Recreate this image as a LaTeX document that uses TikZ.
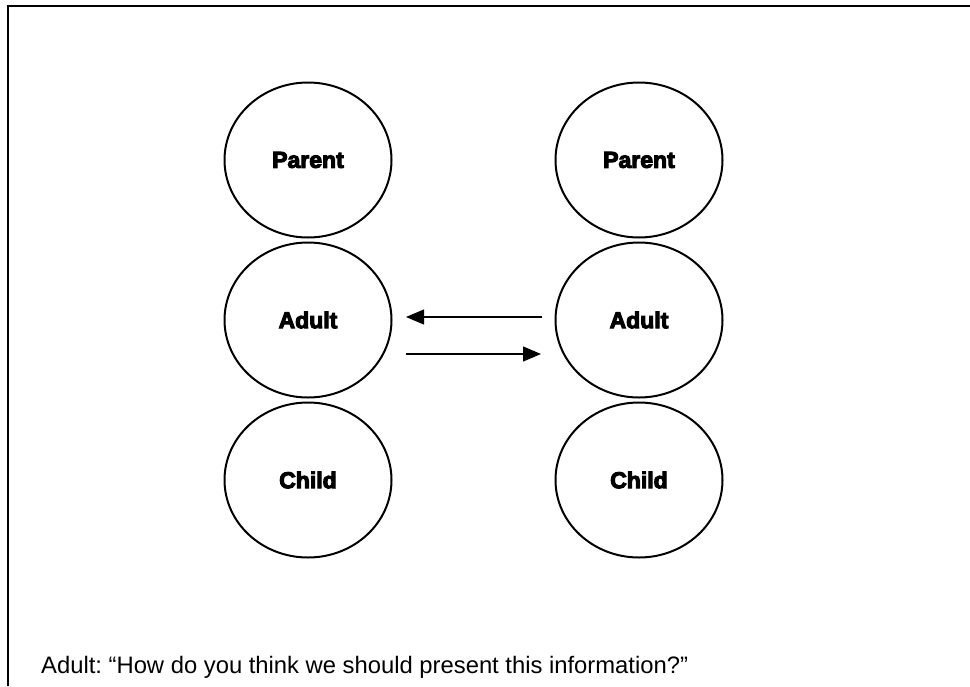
\documentclass[tikz,border=0pt]{standalone}
\usepackage{fontspec}
\setmainfont{Liberation Sans}
\newfontfamily\heavyfont{Liberation Sans Bold}[FakeBold=4.5]
\usetikzlibrary{shapes.geometric,arrows.meta}

\tikzset{
  ego/.style={draw=black, line width=2pt, ellipse, inner sep=0pt,
              minimum width=167pt, minimum height=155pt,
              font=\heavyfont\fontsize{23}{28}\selectfont},
  talk/.style={line width=1.2pt, -{Triangle[length=18pt,width=15pt]}},
  frameline/.style={line width=2.5pt},
}

\begin{document}
\frenchspacing
\begin{tikzpicture}[x=1pt,y=-1pt]
  \useasboundingbox (0,0) rectangle (970,686);

  % open frame: top and left edges only
  \coordinate (fb) at (8,686);
  \coordinate (fc) at (8,6);
  \coordinate (fr) at (970,6);
  \draw[frameline] (fb) -- (fc) -- (fr);

  % first person's ego states
  \node[ego] (p1) at (308,160) {Parent};
  \node[ego] (a1) at (308,320) {Adult};
  \node[ego] (c1) at (308,480) {Child};

  % second person's ego states
  \node[ego] (p2) at (639,160) {Parent};
  \node[ego] (a2) at (639,320) {Adult};
  \node[ego] (c2) at (639,480) {Child};

  % adult-to-adult transaction
  \coordinate (t1s) at (542,317);
  \coordinate (t1e) at (406,317);
  \coordinate (t2s) at (406,354);
  \coordinate (t2e) at (541,354);
  \draw[talk] (t1s) -- (t1e);
  \draw[talk] (t2s) -- (t2e);

  \node[anchor=base west, inner sep=0pt, font=\fontsize{23.8}{28}\selectfont] (quote) at (41,673)
    {Adult: “How do you think we should present this information?”};
\end{tikzpicture}
\end{document}
